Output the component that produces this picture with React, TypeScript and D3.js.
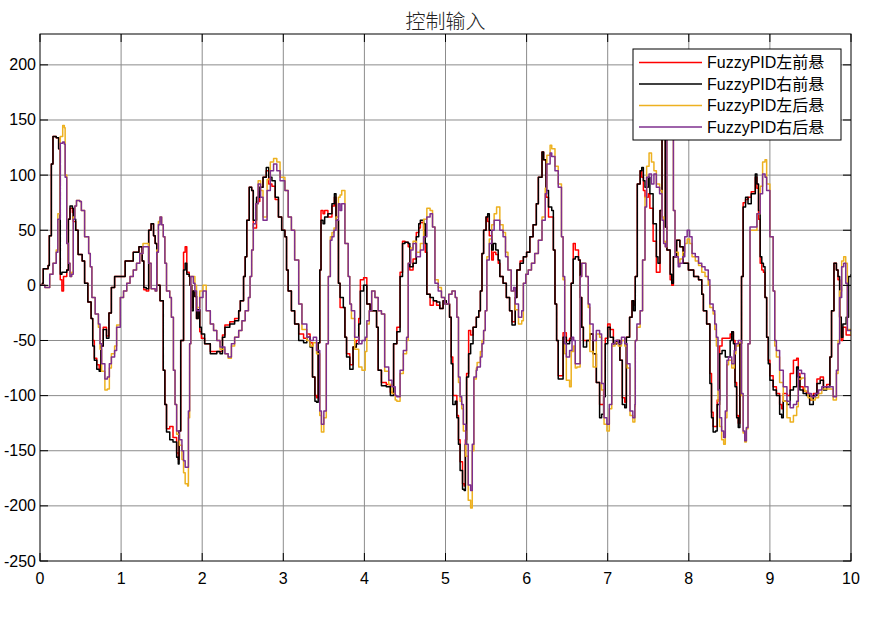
import React from "react";
import * as d3 from "d3";

type P = [number, number];

const title = "控制输入";
const seriesNames = ["FuzzyPID左前悬", "FuzzyPID右前悬", "FuzzyPID左后悬", "FuzzyPID右后悬"];
const seriesColors = ["#ff0000", "#000000", "#edb120", "#7e2f8e"];
const xTicks = [0, 1, 2, 3, 4, 5, 6, 7, 8, 9, 10];
const yTicks = [-250, -200, -150, -100, -50, 0, 50, 100, 150, 200];
const xDomain: [number, number] = [0, 10];
const yDomain: [number, number] = [-250, 228];

// FuzzyPID右前悬 (black)
const rightFront: P[] = [
  [0,0],[0.03,2],[0.04,15],[0.10,18],[0.115,45],[0.14,110],[0.16,135],[0.2,134],[0.23,124],[0.25,10],[0.27,12],[0.33,14],[0.35,60],[0.37,72],[0.40,70],[0.41,60],[0.44,50],[0.47,28],[0.52,22],[0.55,2],[0.59,-15],[0.63,-30],[0.65,-55],[0.67,-68],[0.70,-76],[0.73,-78],[0.75,-55],[0.78,-40],[0.82,-48],[0.85,-25],[0.88,-2],[0.92,8],[0.97,8],[1.05,22],[1.15,30],[1.22,35],[1.26,22],[1.28,-2],[1.31,-3],[1.34,50],[1.37,56],[1.40,45],[1.42,38],[1.44,0],[1.48,-14],[1.51,-14],[1.52,-77],[1.54,-108],[1.56,-133],[1.60,-140],[1.64,-142],[1.685,-156],[1.705,-162],[1.715,-132],[1.735,-50],[1.77,14],[1.79,20],[1.81,10],[1.84,8],[1.85,0],[1.87,-23],[1.89,-5],[1.91,-10],[1.93,-30],[1.95,-22],[1.97,-38],[1.99,-44],[2.03,-53],[2.10,-62],[2.18,-60],[2.22,-62],[2.25,-47],[2.28,-38],[2.34,-35],[2.40,-32],[2.45,-23],[2.47,-14],[2.51,8],[2.53,26],[2.55,59],[2.58,89],[2.61,86],[2.63,59],[2.67,80],[2.71,89],[2.75,98],[2.79,107],[2.82,98],[2.86,95],[2.90,80],[2.94,62],[2.98,50],[3.02,44],[3.04,14],[3.06,-5],[3.10,-23],[3.14,-35],[3.19,-50],[3.25,-52],[3.29,-47],[3.33,-56],[3.36,-83],[3.39,-105],[3.41,-106],[3.43,-52],[3.45,14],[3.465,59],[3.49,56],[3.51,62],[3.55,65],[3.60,74],[3.63,83],[3.65,59],[3.68,2],[3.70,-11],[3.74,-20],[3.76,-47],[3.78,-65],[3.82,-76],[3.86,-56],[3.90,-53],[3.93,-35],[3.95,-5],[3.99,0],[4.03,-17],[4.07,-23],[4.11,-23],[4.15,-38],[4.17,-77],[4.21,-91],[4.27,-92],[4.32,-100],[4.36,-53],[4.40,-42],[4.44,8],[4.47,38],[4.50,39],[4.54,38],[4.56,17],[4.60,20],[4.64,44],[4.67,56],[4.69,59],[4.73,56],[4.75,38],[4.77,-8],[4.81,-11],[4.85,-14],[4.89,-15],[4.93,-21],[4.97,-14],[5.01,-17],[5.05,-29],[5.07,-71],[5.09,-108],[5.12,-105],[5.14,-120],[5.16,-144],[5.18,-168],[5.21,-185],[5.23,-186],[5.245,-144],[5.26,-83],[5.285,-62],[5.31,-53],[5.34,-38],[5.38,-29],[5.41,-23],[5.43,-5],[5.45,29],[5.47,50],[5.50,62],[5.52,65],[5.54,50],[5.57,32],[5.59,38],[5.62,32],[5.65,23],[5.67,8],[5.71,2],[5.75,-11],[5.79,-23],[5.82,-36],[5.84,-36],[5.86,-11],[5.88,14],[5.92,20],[5.96,26],[6.0,30],[6.04,44],[6.08,55],[6.12,74],[6.145,98],[6.19,121],[6.21,114],[6.24,86],[6.27,71],[6.31,68],[6.33,32],[6.35,-17],[6.37,-50],[6.39,-85],[6.43,-85],[6.45,-47],[6.49,-53],[6.53,-50],[6.55,2],[6.575,24],[6.60,26],[6.64,23],[6.66,-11],[6.68,-38],[6.70,-56],[6.74,-50],[6.78,-44],[6.82,-62],[6.86,-88],[6.90,-120],[6.925,-117],[6.95,-101],[6.97,-53],[7.00,-38],[7.03,-47],[7.07,-53],[7.11,-50],[7.15,-68],[7.18,-108],[7.21,-111],[7.23,-47],[7.27,-29],[7.30,-14],[7.32,-23],[7.34,8],[7.365,92],[7.40,104],[7.42,107],[7.44,95],[7.46,89],[7.50,98],[7.52,83],[7.56,56],[7.60,26],[7.62,20],[7.645,68],[7.67,138],[7.70,140],[7.71,53],[7.73,32],[7.77,10],[7.79,2],[7.81,26],[7.85,41],[7.89,35],[7.93,20],[7.995,14],[8.06,8],[8.12,5],[8.16,-8],[8.18,-23],[8.22,-35],[8.26,-89],[8.28,-120],[8.30,-133],[8.33,-132],[8.35,-108],[8.38,-62],[8.41,-59],[8.45,-65],[8.51,-50],[8.53,-42],[8.55,-53],[8.57,-92],[8.59,-120],[8.61,-129],[8.63,-53],[8.65,8],[8.67,71],[8.70,80],[8.73,74],[8.77,83],[8.82,101],[8.84,92],[8.86,68],[8.88,26],[8.90,20],[8.92,17],[8.94,-11],[8.96,-47],[8.98,-71],[9.00,-86],[9.04,-95],[9.08,-100],[9.12,-117],[9.145,-120],[9.165,-105],[9.21,-108],[9.25,-95],[9.29,-92],[9.33,-74],[9.35,-83],[9.37,-95],[9.41,-98],[9.45,-100],[9.49,-108],[9.535,-100],[9.58,-89],[9.62,-86],[9.66,-95],[9.70,-92],[9.74,-65],[9.76,-23],[9.79,20],[9.82,14],[9.84,8],[9.86,-29],[9.88,-47],[9.90,-35],[9.94,-29],[9.97,8],[10,10]
];

// FuzzyPID左前悬 (red)
const leftFront: P[] = [
  [0,0],[0.03,2],[0.04,15],[0.10,18],[0.115,45],[0.14,110],[0.16,135],[0.2,134],[0.23,124],[0.25,5],[0.27,-5],[0.29,8],[0.33,14],[0.35,60],[0.37,70],[0.40,66],[0.41,58],[0.44,50],[0.47,28],[0.52,22],[0.55,2],[0.59,-15],[0.63,-30],[0.65,-50],[0.67,-66],[0.70,-72],[0.73,-76],[0.75,-55],[0.78,-38],[0.82,-46],[0.85,-25],[0.88,-2],[0.92,8],[0.97,8],[1.05,22],[1.15,30],[1.22,35],[1.26,22],[1.28,-4],[1.31,-5],[1.34,50],[1.37,56],[1.40,45],[1.42,38],[1.44,0],[1.48,-14],[1.51,-14],[1.52,-77],[1.54,-108],[1.56,-130],[1.60,-128],[1.64,-138],[1.685,-152],[1.705,-158],[1.715,-132],[1.735,-50],[1.77,30],[1.79,35],[1.81,12],[1.84,8],[1.85,0],[1.87,-20],[1.89,-5],[1.91,-10],[1.93,-30],[1.95,-22],[1.97,-42],[1.99,-48],[2.03,-53],[2.10,-60],[2.18,-60],[2.22,-60],[2.25,-45],[2.28,-36],[2.34,-33],[2.40,-30],[2.45,-23],[2.47,-14],[2.51,8],[2.53,26],[2.55,59],[2.58,89],[2.61,86],[2.63,52],[2.67,76],[2.71,89],[2.75,98],[2.79,104],[2.82,92],[2.86,90],[2.90,78],[2.94,62],[2.98,50],[3.02,44],[3.04,14],[3.06,-5],[3.10,-23],[3.14,-35],[3.19,-44],[3.25,-48],[3.29,-44],[3.33,-52],[3.36,-83],[3.39,-100],[3.41,-102],[3.43,-52],[3.45,14],[3.465,68],[3.49,65],[3.51,68],[3.55,62],[3.60,72],[3.63,80],[3.65,59],[3.68,2],[3.70,-20],[3.74,-20],[3.76,-47],[3.78,-62],[3.82,-72],[3.86,-56],[3.90,-50],[3.93,-30],[3.95,5],[3.99,7],[4.03,-17],[4.07,-23],[4.11,-23],[4.15,-38],[4.17,-77],[4.21,-88],[4.27,-90],[4.32,-97],[4.36,-53],[4.40,-38],[4.44,12],[4.47,40],[4.50,39],[4.54,35],[4.56,14],[4.60,24],[4.64,48],[4.67,52],[4.69,57],[4.73,50],[4.75,30],[4.77,-8],[4.81,-18],[4.85,-14],[4.89,-18],[4.93,-21],[4.97,-14],[5.01,-17],[5.05,-29],[5.07,-65],[5.09,-100],[5.12,-100],[5.14,-118],[5.16,-140],[5.18,-160],[5.21,-180],[5.23,-182],[5.245,-140],[5.26,-80],[5.285,-41],[5.31,-45],[5.34,-38],[5.38,-29],[5.41,-23],[5.43,-5],[5.45,29],[5.47,50],[5.50,62],[5.52,58],[5.54,45],[5.57,23],[5.59,30],[5.62,28],[5.65,20],[5.67,8],[5.71,2],[5.75,-11],[5.79,-23],[5.82,-33],[5.84,-33],[5.86,-11],[5.88,14],[5.92,22],[5.96,26],[6.0,30],[6.04,44],[6.08,55],[6.12,74],[6.145,98],[6.19,121],[6.21,114],[6.24,80],[6.27,62],[6.31,62],[6.33,32],[6.35,-17],[6.37,-50],[6.39,-82],[6.43,-82],[6.45,-43],[6.49,-50],[6.53,-48],[6.55,2],[6.575,38],[6.60,32],[6.64,23],[6.66,-11],[6.68,-38],[6.70,-50],[6.74,-50],[6.78,-44],[6.82,-62],[6.86,-88],[6.90,-108],[6.925,-108],[6.95,-95],[6.97,-48],[7.00,-35],[7.03,-40],[7.07,-53],[7.11,-50],[7.15,-68],[7.18,-102],[7.21,-106],[7.23,-47],[7.27,-29],[7.30,-14],[7.32,-18],[7.34,8],[7.365,92],[7.40,104],[7.42,98],[7.44,86],[7.46,80],[7.50,83],[7.52,70],[7.56,40],[7.60,12],[7.62,12],[7.645,68],[7.67,138],[7.70,140],[7.71,53],[7.73,32],[7.77,5],[7.79,0],[7.81,26],[7.85,41],[7.89,35],[7.93,20],[7.995,14],[8.06,8],[8.12,5],[8.16,-8],[8.18,-23],[8.22,-35],[8.26,-80],[8.28,-115],[8.30,-128],[8.33,-128],[8.35,-104],[8.38,-55],[8.41,-48],[8.45,-48],[8.51,-44],[8.53,-42],[8.55,-50],[8.57,-88],[8.59,-118],[8.61,-125],[8.63,-53],[8.65,8],[8.67,75],[8.70,78],[8.73,80],[8.77,85],[8.82,98],[8.84,88],[8.86,60],[8.88,20],[8.90,14],[8.92,12],[8.94,-11],[8.96,-47],[8.98,-68],[9.00,-82],[9.04,-92],[9.08,-98],[9.12,-108],[9.145,-112],[9.165,-98],[9.21,-100],[9.25,-80],[9.29,-68],[9.33,-66],[9.35,-80],[9.37,-92],[9.41,-96],[9.45,-98],[9.49,-104],[9.535,-98],[9.58,-85],[9.62,-83],[9.66,-92],[9.70,-90],[9.74,-65],[9.76,-23],[9.79,20],[9.82,14],[9.84,5],[9.86,-29],[9.88,-50],[9.90,-38],[9.94,-45],[9.97,-45],[10,-45]
];

// FuzzyPID右后悬 (purple)
const rightRear: P[] = [
  [0,0],[0.03,0],[0.06,-2],[0.09,-2],[0.12,10],[0.16,20],[0.2,30],[0.22,60],[0.25,129],[0.28,130],[0.30,128],[0.31,98],[0.33,38],[0.35,20],[0.37,8],[0.39,10],[0.41,60],[0.43,72],[0.45,77],[0.49,76],[0.51,68],[0.55,44],[0.6,29],[0.62,17],[0.64,-11],[0.68,-26],[0.72,-35],[0.74,-53],[0.76,-71],[0.80,-85],[0.83,-83],[0.855,-71],[0.88,-65],[0.92,-59],[0.945,-38],[0.99,-11],[1.03,-5],[1.07,2],[1.11,8],[1.15,14],[1.19,20],[1.23,29],[1.27,35],[1.31,35],[1.34,20],[1.37,-3],[1.42,-5],[1.44,30],[1.46,55],[1.48,62],[1.50,55],[1.52,44],[1.54,20],[1.56,-5],[1.60,-11],[1.62,-29],[1.645,-77],[1.665,-108],[1.685,-132],[1.72,-140],[1.75,-150],[1.77,-159],[1.79,-165],[1.82,-165],[1.83,-114],[1.845,-53],[1.86,8],[1.89,2],[1.91,-5],[1.93,-23],[1.97,-11],[2.01,-5],[2.05,-23],[2.10,-35],[2.14,-41],[2.18,-50],[2.22,-56],[2.28,-62],[2.32,-65],[2.36,-53],[2.40,-47],[2.45,-41],[2.49,-32],[2.53,-23],[2.57,-11],[2.59,8],[2.61,32],[2.63,56],[2.66,74],[2.69,92],[2.72,80],[2.75,59],[2.80,86],[2.84,104],[2.88,110],[2.92,104],[2.96,95],[3.02,86],[3.06,62],[3.10,50],[3.14,23],[3.19,-17],[3.23,-35],[3.29,-47],[3.33,-50],[3.37,-47],[3.41,-59],[3.45,-114],[3.47,-126],[3.50,-114],[3.53,-53],[3.555,8],[3.58,41],[3.60,44],[3.625,50],[3.65,59],[3.68,74],[3.70,68],[3.72,74],[3.76,38],[3.80,8],[3.82,-17],[3.84,-23],[3.88,-47],[3.93,-53],[3.97,-50],[4.01,-47],[4.03,-32],[4.06,-23],[4.09,-5],[4.13,-11],[4.17,-23],[4.21,-26],[4.25,-74],[4.30,-86],[4.34,-92],[4.38,-100],[4.40,-101],[4.44,-77],[4.48,-59],[4.52,-47],[4.54,20],[4.57,32],[4.60,38],[4.64,26],[4.69,32],[4.73,44],[4.77,62],[4.81,65],[4.84,53],[4.87,2],[4.91,-5],[4.95,-11],[4.99,-17],[5.04,-8],[5.08,-5],[5.12,-11],[5.14,-29],[5.16,-83],[5.18,-101],[5.20,-108],[5.22,-126],[5.25,-144],[5.28,-181],[5.31,-186],[5.33,-144],[5.35,-83],[5.38,-77],[5.39,-74],[5.43,-65],[5.45,-53],[5.47,-41],[5.49,-23],[5.51,23],[5.54,38],[5.57,50],[5.60,59],[5.63,59],[5.67,50],[5.71,44],[5.74,26],[5.77,14],[5.81,-5],[5.84,-2],[5.86,-17],[5.90,-29],[5.94,-23],[5.96,2],[5.99,10],[6.02,14],[6.06,20],[6.10,29],[6.145,41],[6.19,59],[6.23,83],[6.25,110],[6.29,120],[6.31,117],[6.35,104],[6.39,89],[6.43,44],[6.45,8],[6.47,-53],[6.49,-65],[6.53,-59],[6.56,-47],[6.58,-50],[6.60,-71],[6.62,-71],[6.66,8],[6.68,20],[6.70,20],[6.73,8],[6.76,-17],[6.78,-35],[6.82,-50],[6.86,-41],[6.90,-44],[6.925,-89],[6.955,-120],[6.99,-126],[7.02,-108],[7.05,-53],[7.09,-50],[7.13,-53],[7.17,-47],[7.21,-53],[7.24,-71],[7.275,-114],[7.31,-120],[7.335,-108],[7.34,-50],[7.36,-35],[7.40,-23],[7.43,23],[7.46,71],[7.48,98],[7.51,101],[7.54,92],[7.57,101],[7.60,89],[7.64,83],[7.67,59],[7.69,38],[7.71,35],[7.73,140],[7.79,140],[7.81,68],[7.83,26],[7.87,17],[7.89,20],[7.925,26],[7.95,44],[7.98,50],[8.01,44],[8.04,29],[8.08,26],[8.12,20],[8.16,17],[8.20,14],[8.24,5],[8.26,-17],[8.30,-23],[8.32,-35],[8.34,-47],[8.36,-95],[8.38,-120],[8.405,-132],[8.43,-138],[8.45,-114],[8.47,-68],[8.49,-65],[8.53,-71],[8.56,-59],[8.58,-53],[8.61,-50],[8.65,-98],[8.67,-132],[8.69,-141],[8.71,-129],[8.73,-53],[8.755,53],[8.79,53],[8.84,65],[8.88,83],[8.91,101],[8.94,98],[8.96,86],[9.0,44],[9.04,-5],[9.06,-50],[9.08,-59],[9.12,-77],[9.165,-92],[9.21,-105],[9.25,-111],[9.29,-108],[9.33,-105],[9.35,-77],[9.39,-80],[9.43,-92],[9.47,-98],[9.51,-101],[9.56,-98],[9.60,-95],[9.64,-92],[9.72,-92],[9.78,-101],[9.80,-101],[9.82,-77],[9.84,-53],[9.86,-11],[9.885,17],[9.91,20],[9.935,2],[9.955,-41],[10,-41]
];

// FuzzyPID左后悬 (orange)
const leftRear: P[] = [
  [0,0],[0.03,0],[0.06,-2],[0.09,-2],[0.12,10],[0.16,20],[0.2,32],[0.22,65],[0.25,135],[0.28,145],[0.30,143],[0.31,100],[0.33,38],[0.35,20],[0.37,8],[0.39,12],[0.41,62],[0.43,72],[0.45,77],[0.49,76],[0.51,68],[0.55,44],[0.6,29],[0.62,17],[0.64,-11],[0.68,-26],[0.72,-38],[0.74,-58],[0.76,-78],[0.80,-95],[0.83,-94],[0.855,-75],[0.88,-62],[0.92,-55],[0.945,-36],[0.99,-11],[1.03,-5],[1.07,2],[1.11,8],[1.15,14],[1.19,20],[1.23,29],[1.27,38],[1.31,38],[1.34,20],[1.37,-3],[1.42,-5],[1.44,32],[1.46,58],[1.48,62],[1.50,55],[1.52,44],[1.54,20],[1.56,-5],[1.60,-11],[1.62,-29],[1.645,-77],[1.665,-108],[1.685,-135],[1.72,-145],[1.75,-158],[1.77,-170],[1.79,-180],[1.82,-182],[1.83,-120],[1.845,-53],[1.86,8],[1.89,8],[1.91,0],[1.93,-20],[1.97,-5],[2.01,0],[2.05,-23],[2.10,-35],[2.14,-41],[2.18,-50],[2.22,-58],[2.28,-62],[2.32,-66],[2.36,-55],[2.40,-47],[2.45,-41],[2.49,-32],[2.53,-23],[2.57,-11],[2.59,8],[2.61,32],[2.63,56],[2.66,74],[2.69,95],[2.72,86],[2.75,62],[2.80,96],[2.84,112],[2.88,115],[2.92,112],[2.96,98],[3.02,86],[3.06,62],[3.10,50],[3.14,23],[3.19,-17],[3.23,-40],[3.29,-50],[3.33,-55],[3.37,-52],[3.41,-62],[3.45,-118],[3.47,-133],[3.50,-120],[3.53,-53],[3.555,8],[3.58,44],[3.60,48],[3.625,52],[3.65,62],[3.68,80],[3.70,82],[3.72,86],[3.76,38],[3.80,8],[3.82,-17],[3.84,-30],[3.88,-58],[3.93,-74],[3.97,-77],[4.01,-60],[4.03,-35],[4.06,-23],[4.09,-5],[4.13,-11],[4.17,-23],[4.21,-26],[4.25,-78],[4.30,-90],[4.34,-98],[4.38,-104],[4.40,-105],[4.44,-80],[4.48,-62],[4.52,-50],[4.54,20],[4.57,34],[4.60,40],[4.64,30],[4.69,38],[4.73,60],[4.77,70],[4.81,68],[4.84,53],[4.87,5],[4.91,-2],[4.95,-11],[4.99,-17],[5.04,-8],[5.08,-5],[5.12,-11],[5.14,-29],[5.16,-88],[5.18,-105],[5.20,-112],[5.22,-132],[5.25,-155],[5.28,-195],[5.31,-202],[5.33,-150],[5.35,-85],[5.38,-75],[5.39,-70],[5.43,-60],[5.45,-50],[5.47,-41],[5.49,-23],[5.51,26],[5.54,42],[5.57,55],[5.60,65],[5.63,71],[5.67,55],[5.71,48],[5.74,30],[5.77,14],[5.81,-5],[5.84,-5],[5.86,-22],[5.90,-35],[5.94,-32],[5.96,2],[5.99,10],[6.02,14],[6.06,20],[6.10,29],[6.145,41],[6.19,62],[6.23,88],[6.25,118],[6.29,127],[6.31,124],[6.35,108],[6.39,92],[6.43,44],[6.45,5],[6.47,-62],[6.49,-86],[6.53,-92],[6.55,-60],[6.58,-55],[6.60,-75],[6.62,-74],[6.66,8],[6.68,20],[6.70,20],[6.73,8],[6.76,-20],[6.78,-60],[6.82,-74],[6.86,-44],[6.90,-47],[6.925,-95],[6.955,-126],[6.99,-132],[7.02,-112],[7.05,-55],[7.09,-52],[7.13,-55],[7.17,-50],[7.21,-55],[7.24,-75],[7.275,-118],[7.31,-124],[7.335,-110],[7.34,-50],[7.36,-38],[7.40,-23],[7.43,23],[7.46,80],[7.48,108],[7.51,120],[7.54,112],[7.57,104],[7.60,92],[7.64,86],[7.67,62],[7.69,40],[7.71,35],[7.73,140],[7.79,140],[7.81,68],[7.83,30],[7.87,20],[7.89,24],[7.925,30],[7.95,38],[7.98,42],[8.01,38],[8.04,26],[8.08,22],[8.12,18],[8.16,12],[8.20,8],[8.24,0],[8.26,-20],[8.30,-26],[8.32,-40],[8.34,-55],[8.36,-105],[8.38,-128],[8.405,-140],[8.43,-144],[8.45,-120],[8.47,-72],[8.49,-68],[8.53,-75],[8.56,-62],[8.58,-55],[8.61,-52],[8.65,-100],[8.67,-134],[8.69,-142],[8.71,-130],[8.73,-53],[8.755,50],[8.79,50],[8.84,65],[8.88,90],[8.91,112],[8.94,114],[8.96,92],[9.0,44],[9.04,-5],[9.06,-55],[9.08,-65],[9.12,-88],[9.165,-105],[9.21,-120],[9.25,-124],[9.29,-118],[9.33,-110],[9.35,-85],[9.39,-84],[9.43,-96],[9.47,-102],[9.51,-104],[9.56,-102],[9.60,-98],[9.64,-94],[9.72,-94],[9.78,-104],[9.80,-104],[9.82,-80],[9.84,-50],[9.86,-5],[9.885,22],[9.91,26],[9.935,20],[9.955,-40],[10,-45]
];

const seriesData: P[][] = [leftFront, rightFront, leftRear, rightRear];

const W = 875;
const H = 619;
const L = 40, R = 851, T = 34, B = 561;

export default function App() {
  const x = d3.scaleLinear().domain(xDomain).range([L, R]);
  const y = d3.scaleLinear().domain(yDomain).range([B, T]);
  const line = d3.line<P>().x((d) => x(d[0])).y((d) => y(d[1])).curve(d3.curveStepAfter);
  const tickFont = "'Liberation Sans', Arial, Helvetica, sans-serif";
  const cjkFont = "'Liberation Sans', Arial, 'Noto Sans CJK SC', sans-serif";
  const tl = 8;
  const legendX = 633, legendY = 49, legendW = 208, legendH = 91;
  const rowY = [62.5, 84, 105.5, 127];

  return (
    <svg width={W} height={H} style={{ position: "absolute", left: 0, top: 0, background: "#fff" }}>
      <rect x={0} y={0} width={W} height={H} fill="#fff" />
      <defs>
        <clipPath id="plotClip">
          <rect x={L} y={T} width={R - L} height={B - T} />
        </clipPath>
      </defs>
      {xTicks.filter((t) => t > xDomain[0] && t < xDomain[1]).map((t) => (
        <line key={"gx" + t} x1={x(t)} x2={x(t)} y1={T} y2={B} stroke="#8c8c8c" strokeWidth={1} />
      ))}
      {yTicks.filter((t) => t > yDomain[0]).map((t) => (
        <line key={"gy" + t} x1={L} x2={R} y1={y(t)} y2={y(t)} stroke="#8c8c8c" strokeWidth={1} />
      ))}
      <g clipPath="url(#plotClip)">
        {seriesData.map((s, i) => (
          <path key={i} d={line(s) || ""} fill="none" stroke={seriesColors[i]} strokeWidth={1.5} strokeLinejoin="round" />
        ))}
      </g>
      <rect x={L} y={T} width={R - L} height={B - T} fill="none" stroke="#000" strokeWidth={1} />
      {yTicks.map((t) => (
        <g key={"ty" + t}>
          <line x1={L} x2={L + tl} y1={y(t)} y2={y(t)} stroke="#000" />
          <line x1={R} x2={R - tl} y1={y(t)} y2={y(t)} stroke="#000" />
          <text x={L - 4} y={y(t)} textAnchor="end" dominantBaseline="central" fontFamily={tickFont} fontSize={16} fill="#000">
            {t}
          </text>
        </g>
      ))}
      {xTicks.map((t) => (
        <g key={"tx" + t}>
          <line x1={x(t)} x2={x(t)} y1={B} y2={B - tl} stroke="#000" />
          <line x1={x(t)} x2={x(t)} y1={T} y2={T + tl} stroke="#000" />
          <text x={x(t)} y={B + 17} textAnchor="middle" dominantBaseline="central" fontFamily={tickFont} fontSize={16} fill="#000">
            {t}
          </text>
        </g>
      ))}
      <text x={(L + R) / 2} y={20} textAnchor="middle" dominantBaseline="central" fontFamily="'Noto Sans CJK SC', sans-serif" fontWeight={300} fontSize={20} fill="#222">
        {title}
      </text>
      <rect x={legendX} y={legendY} width={legendW} height={legendH} fill="#fff" stroke="#000" strokeWidth={1} />
      {seriesNames.map((n, i) => (
        <g key={"lg" + i}>
          <line x1={639} x2={702} y1={rowY[i]} y2={rowY[i]} stroke={seriesColors[i]} strokeWidth={1.5} />
          <text x={707} y={rowY[i]} dominantBaseline="central" fontFamily={cjkFont} fontSize={16} fill="#000">
            {n}
          </text>
        </g>
      ))}
    </svg>
  );
}
